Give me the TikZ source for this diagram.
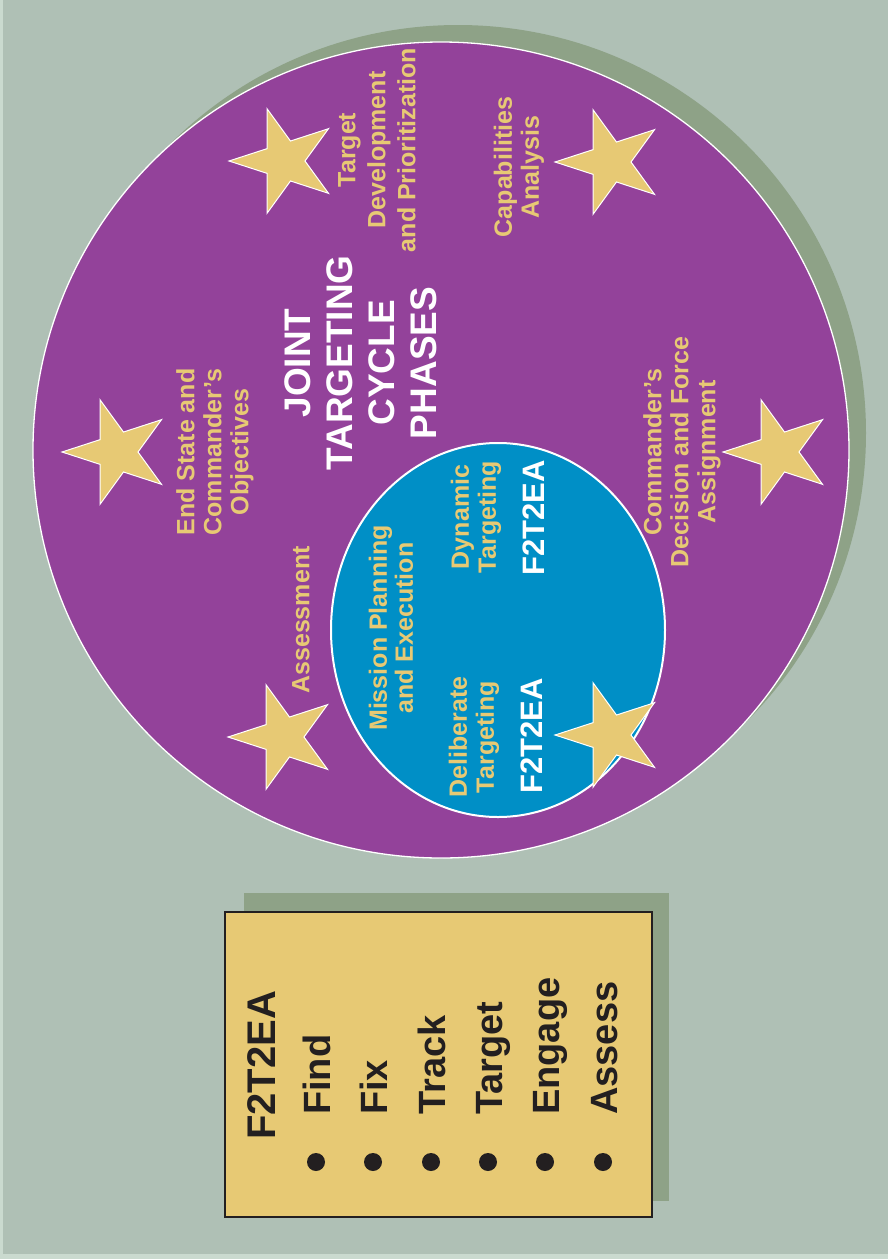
\documentclass[tikz,border=0pt]{standalone}
\usepackage{fontspec}
\setmainfont{Liberation Sans}
\usetikzlibrary{shapes.geometric}
\definecolor{bgc}{HTML}{AFC0B5}
\definecolor{edgec}{HTML}{CADACF}
\definecolor{shadowc}{HTML}{8EA287}
\definecolor{purplec}{HTML}{93429A}
\definecolor{goldc}{HTML}{E7C974}
\definecolor{bluec}{HTML}{008FC6}
\definecolor{inkc}{HTML}{231F20}
\tikzset{
  lab/.style={rotate=90, align=center, text=goldc, inner sep=0pt,
    font=\bfseries\fontsize{25}{27}\selectfont},
  whitelab/.style={rotate=90, align=center, text=white, inner sep=0pt,
    font=\bfseries\fontsize{31}{34}\selectfont},
  titlelab/.style={rotate=90, align=center, text=white, inner sep=0pt,
    font=\bfseries\fontsize{37}{42}\selectfont},
  legitem/.style={rotate=90, anchor=base west, text=inkc, inner sep=0pt,
    font=\bfseries\fontsize{38}{42}\selectfont},
  bulletdot/.style={circle, fill=inkc, minimum size=18pt, inner sep=0pt},
  starsty/.style={fill=goldc, draw=white, line width=1pt, line join=miter},
}
\newcommand{\mystar}[2]{%
  \draw[starsty, shift={(#1,-#2)}] (180:55) -- (216:21) -- (252:55) -- (288:21)
    -- (324:55) -- (0:21) -- (36:55) -- (72:21) -- (108:55) -- (144:21) -- cycle;}
\begin{document}
\begin{tikzpicture}[x=1pt,y=1pt]
\useasboundingbox (0,0) rectangle (888,-1259);
\fill[bgc] (0,0) rectangle (888,-1259);
\fill[edgec] (0,0) rectangle (2.5,-1259);
\fill[edgec] (0,-1254) rectangle (888,-1259);

% big circle with shadow
\fill[shadowc] (458,-433) circle (408);
\node[circle, minimum size=816pt, inner sep=0pt, fill=purplec, draw=white, line width=1.3pt] (outer) at (441,-450) {};

% inner ellipse
\node[ellipse, minimum width=334pt, minimum height=374pt, inner sep=0pt, fill=bluec, draw=white, line width=2pt] (inner) at (498,-630) {};

% stars
\mystar{284}{161}
\mystar{610}{162}
\mystar{117}{452}
\mystar{778}{452}
\mystar{283}{737}
\mystar{610}{735}

% labels in the big circle
\node[lab, font=\bfseries\fontsize{25}{30}\selectfont] (tdp) at (377,-150) {Target\\Development\\and Prioritization};
\node[lab] (cap) at (519,-167) {Capabilities\\Analysis};
\node[lab] (esc) at (215,-452) {End State and\\Commander's\\Objectives};
\node[titlelab] (jtc) at (361,-363) {JOINT\\TARGETING\\CYCLE\\PHASES};
\node[lab] (asm) at (301,-620) {Assessment};
\node[lab] (cdf) at (682,-452) {Commander's\\Decision and Force\\Assignment};

% labels in the inner ellipse
\node[lab, font=\bfseries\fontsize{25}{26}\selectfont] (mpe) at (391,-628) {Mission Planning\\and Execution};
\node[lab] (dlt) at (474,-737) {Deliberate\\Targeting};
\node[whitelab] (f1) at (532,-736) {F2T2EA};
\node[lab] (dyt) at (476,-517) {Dynamic\\Targeting};
\node[whitelab] (f2) at (534,-518) {F2T2EA};

% legend box
\fill[shadowc] (244,-893) rectangle (669,-1201);
\draw[fill=goldc, draw=inkc, line width=2.5pt] (225,-912) rectangle (652,-1217);
\node[legitem, font=\bfseries\fontsize{40}{42}\selectfont] (ltitle) at (275,-1140) {F2T2EA};
\node[legitem] (l1) at (330,-1115) {Find};
\node[legitem] (l2) at (387,-1115) {Fix};
\node[legitem] (l3) at (445,-1115) {Track};
\node[legitem] (l4) at (502,-1115) {Target};
\node[legitem] (l5) at (559,-1115) {Engage};
\node[legitem] (l6) at (617,-1115) {Assess};
\node[bulletdot] (b1) at (316,-1162) {};
\node[bulletdot] (b2) at (373,-1162) {};
\node[bulletdot] (b3) at (431,-1162) {};
\node[bulletdot] (b4) at (488,-1162) {};
\node[bulletdot] (b5) at (545,-1162) {};
\node[bulletdot] (b6) at (603,-1162) {};
\end{tikzpicture}
\end{document}
